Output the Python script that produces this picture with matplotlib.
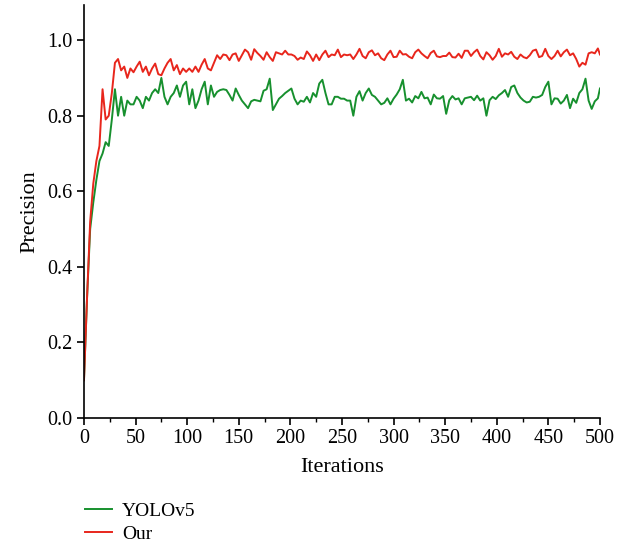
import matplotlib
matplotlib.use("Agg")
import matplotlib.pyplot as plt
from matplotlib.ticker import MultipleLocator, FormatStrFormatter

plt.rcParams['font.family'] = ['Liberation Serif', 'DejaVu Serif']

# iteration grid (every 3 iterations, plus the last one)
iterations = list(range(0, 499, 3)) + [500]

yolov5 = [
    0.10, 0.32, 0.50, 0.57, 0.63, 0.68, 0.70, 0.73, 0.72, 0.79,
    0.87, 0.80, 0.85, 0.80, 0.84, 0.83, 0.83, 0.85, 0.84, 0.82,
    0.85, 0.84, 0.86, 0.87, 0.86, 0.90, 0.85, 0.83, 0.85, 0.86,
    0.88, 0.85, 0.88, 0.89, 0.83, 0.87, 0.82, 0.84, 0.87, 0.89,
    0.83, 0.88, 0.85, 0.863, 0.868, 0.87, 0.868, 0.855, 0.84, 0.872,
    0.855, 0.84, 0.83, 0.82, 0.838, 0.842, 0.84, 0.838, 0.866, 0.87,
    0.898, 0.815, 0.83, 0.845, 0.852, 0.86, 0.866, 0.872, 0.845, 0.83,
    0.84, 0.837, 0.85, 0.835, 0.86, 0.85, 0.885, 0.895, 0.86, 0.83,
    0.83, 0.85, 0.85, 0.845, 0.845, 0.84, 0.84, 0.80, 0.85, 0.865,
    0.84, 0.86, 0.872, 0.855, 0.85, 0.84, 0.83, 0.834, 0.846, 0.83,
    0.845, 0.856, 0.87, 0.895, 0.84, 0.845, 0.835, 0.852, 0.846, 0.863,
    0.846, 0.848, 0.83, 0.856, 0.846, 0.845, 0.852, 0.805, 0.841, 0.852,
    0.843, 0.846, 0.83, 0.846, 0.848, 0.85, 0.841, 0.853, 0.84, 0.846,
    0.80, 0.841, 0.85, 0.844, 0.854, 0.86, 0.868, 0.85, 0.876, 0.88,
    0.86, 0.848, 0.84, 0.835, 0.837, 0.85, 0.848, 0.85, 0.855, 0.876,
    0.89, 0.83, 0.846, 0.845, 0.832, 0.84, 0.855, 0.82, 0.845, 0.834,
    0.86, 0.87, 0.898, 0.84, 0.818, 0.838, 0.846, 0.872,
]

ours = [
    0.10, 0.32, 0.52, 0.62, 0.68, 0.72, 0.87, 0.79, 0.80, 0.86,
    0.94, 0.95, 0.92, 0.93, 0.90, 0.925, 0.915, 0.93, 0.943, 0.916,
    0.93, 0.907, 0.925, 0.938, 0.91, 0.907, 0.925, 0.94, 0.95, 0.92,
    0.934, 0.91, 0.925, 0.916, 0.925, 0.916, 0.93, 0.916, 0.935, 0.95,
    0.925, 0.92, 0.94, 0.96, 0.95, 0.962, 0.96, 0.947, 0.962, 0.965,
    0.945, 0.96, 0.975, 0.968, 0.948, 0.976, 0.966, 0.958, 0.948, 0.968,
    0.955, 0.945, 0.968, 0.965, 0.962, 0.972, 0.962, 0.962, 0.958, 0.948,
    0.954, 0.95, 0.97, 0.96, 0.945, 0.962, 0.947, 0.962, 0.972, 0.955,
    0.962, 0.96, 0.975, 0.955, 0.962, 0.96, 0.962, 0.95, 0.962, 0.977,
    0.958, 0.952, 0.968, 0.973, 0.96, 0.965, 0.952, 0.947, 0.962, 0.972,
    0.955, 0.956, 0.972, 0.962, 0.963, 0.956, 0.952, 0.968, 0.975, 0.965,
    0.958, 0.952, 0.966, 0.972, 0.957, 0.955, 0.958, 0.958, 0.967, 0.955,
    0.954, 0.964, 0.953, 0.972, 0.972, 0.958, 0.968, 0.975, 0.958, 0.949,
    0.968, 0.96, 0.948, 0.958, 0.977, 0.956, 0.965, 0.962, 0.969, 0.956,
    0.95, 0.962, 0.955, 0.952, 0.96, 0.972, 0.975, 0.955, 0.958, 0.977,
    0.958, 0.95, 0.958, 0.972, 0.957, 0.968, 0.975, 0.96, 0.965, 0.95,
    0.93, 0.94, 0.935, 0.965, 0.968, 0.965, 0.978, 0.962,
]

fig = plt.figure(figsize=(6.3, 5.48), dpi=100)
ax = fig.add_axes([0.1333, 0.2372, 0.819, 0.7537])

line_g, = ax.plot(iterations, yolov5, color='#17902e', linewidth=1.4, label='YOLOv5')
line_r, = ax.plot(iterations, ours, color='#e8261c', linewidth=1.4, label='Our')

ax.set_xlim(0, 500)
ax.set_ylim(0, 1.093)
ax.xaxis.set_major_locator(MultipleLocator(50))
ax.xaxis.set_minor_locator(MultipleLocator(25))
ax.yaxis.set_major_locator(MultipleLocator(0.2))
ax.yaxis.set_major_formatter(FormatStrFormatter('%.1f'))

for side in ['top', 'right']:
    ax.spines[side].set_visible(False)
for side in ['left', 'bottom']:
    ax.spines[side].set_linewidth(1.2)

ax.tick_params(axis='both', which='major', direction='out', length=5, width=1.2,
               labelsize=14.5, pad=3)
ax.tick_params(axis='x', which='minor', direction='out', length=3, width=1.0)

ax.set_xlabel("Iterations", fontsize=16, labelpad=7)
ax.set_ylabel("Precision", fontsize=16, labelpad=6)

fig.legend(handles=[line_g, line_r], loc='upper left',
           bbox_to_anchor=(0.123, 0.097), frameon=False, fontsize=14,
           handlelength=1.4, handletextpad=0.5, labelspacing=0.25,
           borderaxespad=0)

fig.savefig("out.png", dpi=100)
